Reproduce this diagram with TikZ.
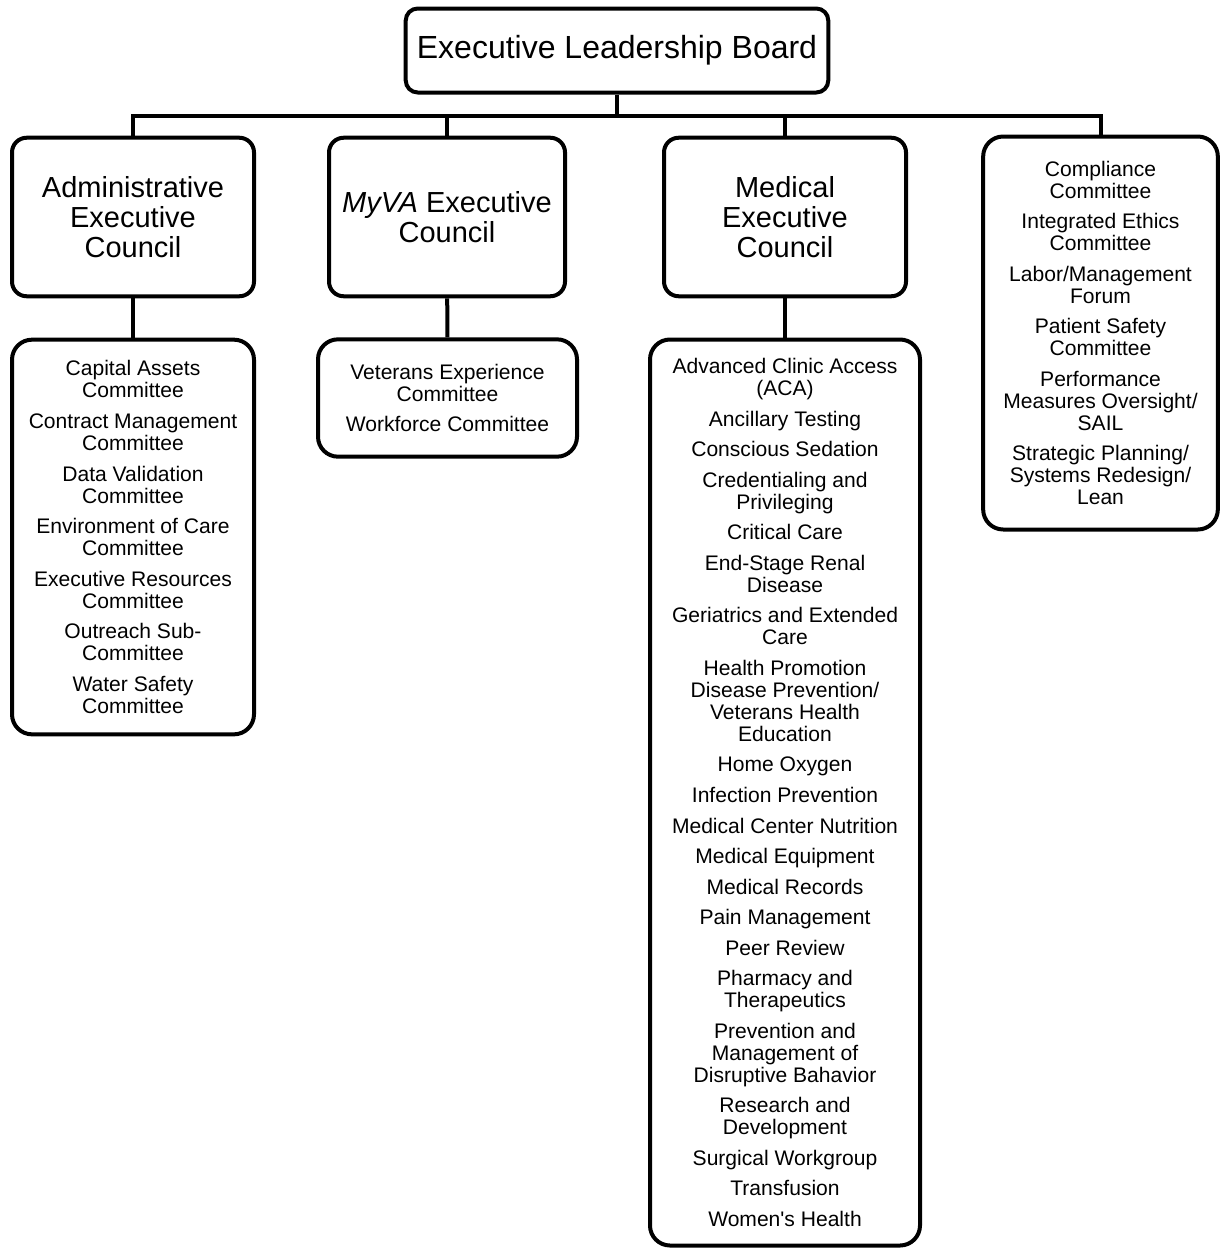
\documentclass[tikz,border=0pt]{standalone}
\usepackage{fontspec}
\setmainfont{Liberation Sans}
\usetikzlibrary{positioning}

\newcommand{\itemgap}{\\[6.4pt]}

\begin{document}
\begin{tikzpicture}[x=0.75pt,y=-0.75pt,
  box/.style={draw,line width=3pt,rounded corners=11pt,align=center,inner sep=0pt},
  boardbox/.style={box,rounded corners=9pt,font=\fontsize{24}{27}\selectfont,
    minimum width=316.9pt,minimum height=63pt},
  council/.style={box,font=\fontsize{21.75}{22.5}\selectfont,
    minimum width=181.5pt,minimum height=118.9pt},
  listbox/.style={box,rounded corners=15pt,font=\fontsize{15.8}{16.5}\selectfont},
  link/.style={line width=3pt}]
\useasboundingbox (0,0) rectangle (1220,1249);
%\draw[step=100] (0,0) grid (1220,1249);

\node[boardbox] (board) at (617,50.5) {Executive Leadership Board};

\node[council] (admin) at (133,217) {Administrative\\Executive\\Council};
\node[council,minimum width=177pt] (myva) at (447,217) {\textit{MyVA} Executive\\Council};
\node[council] (medical) at (785,217) {Medical\\Executive\\Council};
\node[listbox,minimum width=176pt,minimum height=294.75pt] (other) at (1100.5,333)
  {Compliance\\Committee\itemgap
   Integrated Ethics\\Committee\itemgap
   Labor/Management\\Forum\itemgap
   Patient Safety\\Committee\itemgap
   Performance\\Measures Oversight/\\SAIL\itemgap
   Strategic Planning/\\Systems Redesign/\\Lean};

\node[listbox,minimum width=181.5pt,minimum height=296pt] (admincom) at (133,537)
  {Capital Assets\\Committee\itemgap
   Contract Management\\Committee\itemgap
   Data Validation\\Committee\itemgap
   Environment of Care\\Committee\itemgap
   Executive Resources\\Committee\itemgap
   Outreach Sub-\\Committee\itemgap
   Water Safety\\Committee};

\node[listbox,minimum width=194.25pt,minimum height=88pt] (myvacom) at (447.5,398)
  {Veterans Experience\\Committee\itemgap
   Workforce Committee};

\node[listbox,minimum width=202.5pt,minimum height=679.5pt] (medcom) at (785,792.5)
  {Advanced Clinic Access\\(ACA)\itemgap
   Ancillary Testing\itemgap
   Conscious Sedation\itemgap
   Credentialing and\\Privileging\itemgap
   Critical Care\itemgap
   End-Stage Renal\\Disease\itemgap
   Geriatrics and Extended\\Care\itemgap
   Health Promotion\\Disease Prevention/\\Veterans Health\\Education\itemgap
   Home Oxygen\itemgap
   Infection Prevention\itemgap
   Medical Center Nutrition\itemgap
   Medical Equipment\itemgap
   Medical Records\itemgap
   Pain Management\itemgap
   Peer Review\itemgap
   Pharmacy and\\Therapeutics\itemgap
   Prevention and\\Management of\\Disruptive Bahavior\itemgap
   Research and\\Development\itemgap
   Surgical Workgroup\itemgap
   Transfusion\itemgap
   Women\textquotesingle s Health};

\coordinate (bus) at (617,115.5);
\draw[link] (board.south) -- (bus);
\draw[link] (admin.north) |- (bus) -| (other.north);
\draw[link] (myva.north) -- (myva.north |- bus);
\draw[link] (medical.north) -- (medical.north |- bus);

\draw[link] (admin) -- (admincom);
\draw[link] (myva) -- (myvacom);
\draw[link] (medical) -- (medcom);
\end{tikzpicture}
\end{document}
